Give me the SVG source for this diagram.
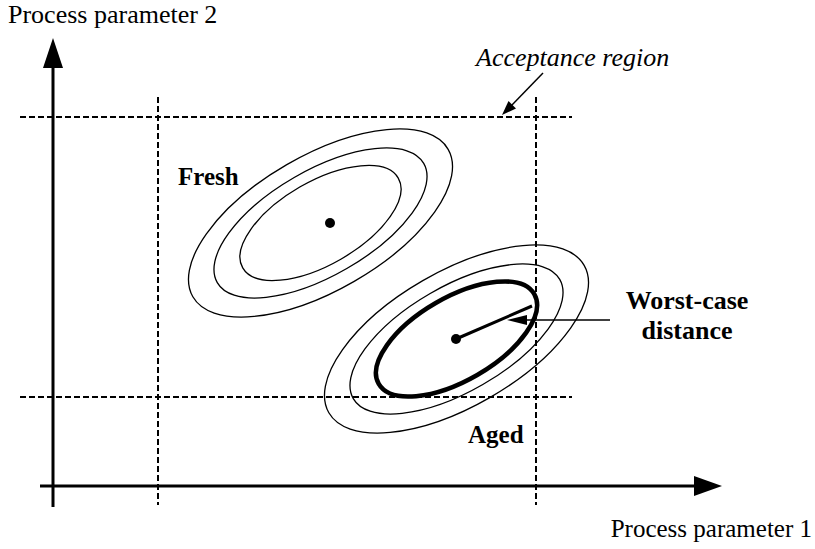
<svg xmlns="http://www.w3.org/2000/svg" width="815" height="549" viewBox="0 0 815 549">
<style>
text{font-family:"Liberation Serif","Times New Roman",serif;fill:#000}
.lbl{font-size:26px}
.b{font-size:25px;font-weight:bold}
.dash{stroke:#000;stroke-width:2;stroke-dasharray:6 3;fill:none}
.thin{stroke:#000;stroke-width:1.3;fill:none}
.axis{stroke:#000;stroke-width:3;fill:none}
</style>
<rect width="815" height="549" fill="#fff"/>
<g id="acceptance-region">
<line class="dash" x1="20" y1="117" x2="572" y2="117"/>
<line class="dash" x1="20" y1="397" x2="572" y2="397"/>
<line class="dash" x1="158" y1="97" x2="158" y2="505"/>
<line class="dash" x1="536" y1="97" x2="536" y2="505"/>
</g>
<g id="axes">
<line class="axis" x1="53" y1="507" x2="53" y2="64"/>
<polygon points="53,38 43,68 63,68" fill="#000"/>
<line class="axis" x1="40" y1="486" x2="698" y2="486"/>
<polygon points="722,486 694,476 694,496" fill="#000"/>
<text class="lbl" x="8" y="23">Process parameter 2</text>
<text class="lbl" x="812" y="537" text-anchor="end" style="font-size:25px">Process parameter 1</text>
</g>
<g id="fresh" transform="rotate(-30 320.5 223)">
<ellipse class="thin" cx="320.5" cy="223" rx="147.4" ry="67.4"/>
<ellipse class="thin" cx="320.5" cy="223" rx="119.2" ry="52.6"/>
<ellipse class="thin" cx="320.5" cy="223" rx="89.8" ry="41.5"/>
</g>
<g id="fresh-center">
<circle cx="330" cy="223" r="5"/>
<text class="b" x="178" y="185">Fresh</text>
</g>
<g id="aged">
<g transform="rotate(-30 456.5 339)">
<ellipse class="thin" cx="456.5" cy="339" rx="147.4" ry="67.4"/>
<ellipse class="thin" cx="456.5" cy="339" rx="119.2" ry="52.6"/>
<ellipse cx="456.5" cy="339" rx="89.8" ry="41.5" fill="none" stroke="#000" stroke-width="4.5"/>
</g>
<circle cx="456" cy="339" r="5"/>
<line x1="456" y1="339" x2="532" y2="306" stroke="#000" stroke-width="3"/>
<text class="b" x="468" y="443">Aged</text>
</g>
<g id="worst-case-label">
<text class="b" text-anchor="middle" x="687" y="309" style="font-size:26px">Worst-case</text>
<text class="b" text-anchor="middle" x="687" y="339" style="font-size:26px">distance</text>
</g>
<g id="connectors">
<line x1="610" y1="320" x2="522" y2="320" stroke="#000" stroke-width="1.5"/>
<polygon points="507,320 527,315 527,325" fill="#000"/>
<line x1="543" y1="73" x2="511" y2="106" stroke="#000" stroke-width="1.5"/>
<polygon points="502,115 508.5,101 516,108.5" fill="#000"/>
<text class="lbl" x="476" y="66" font-style="italic">Acceptance region</text>
</g>
</svg>
